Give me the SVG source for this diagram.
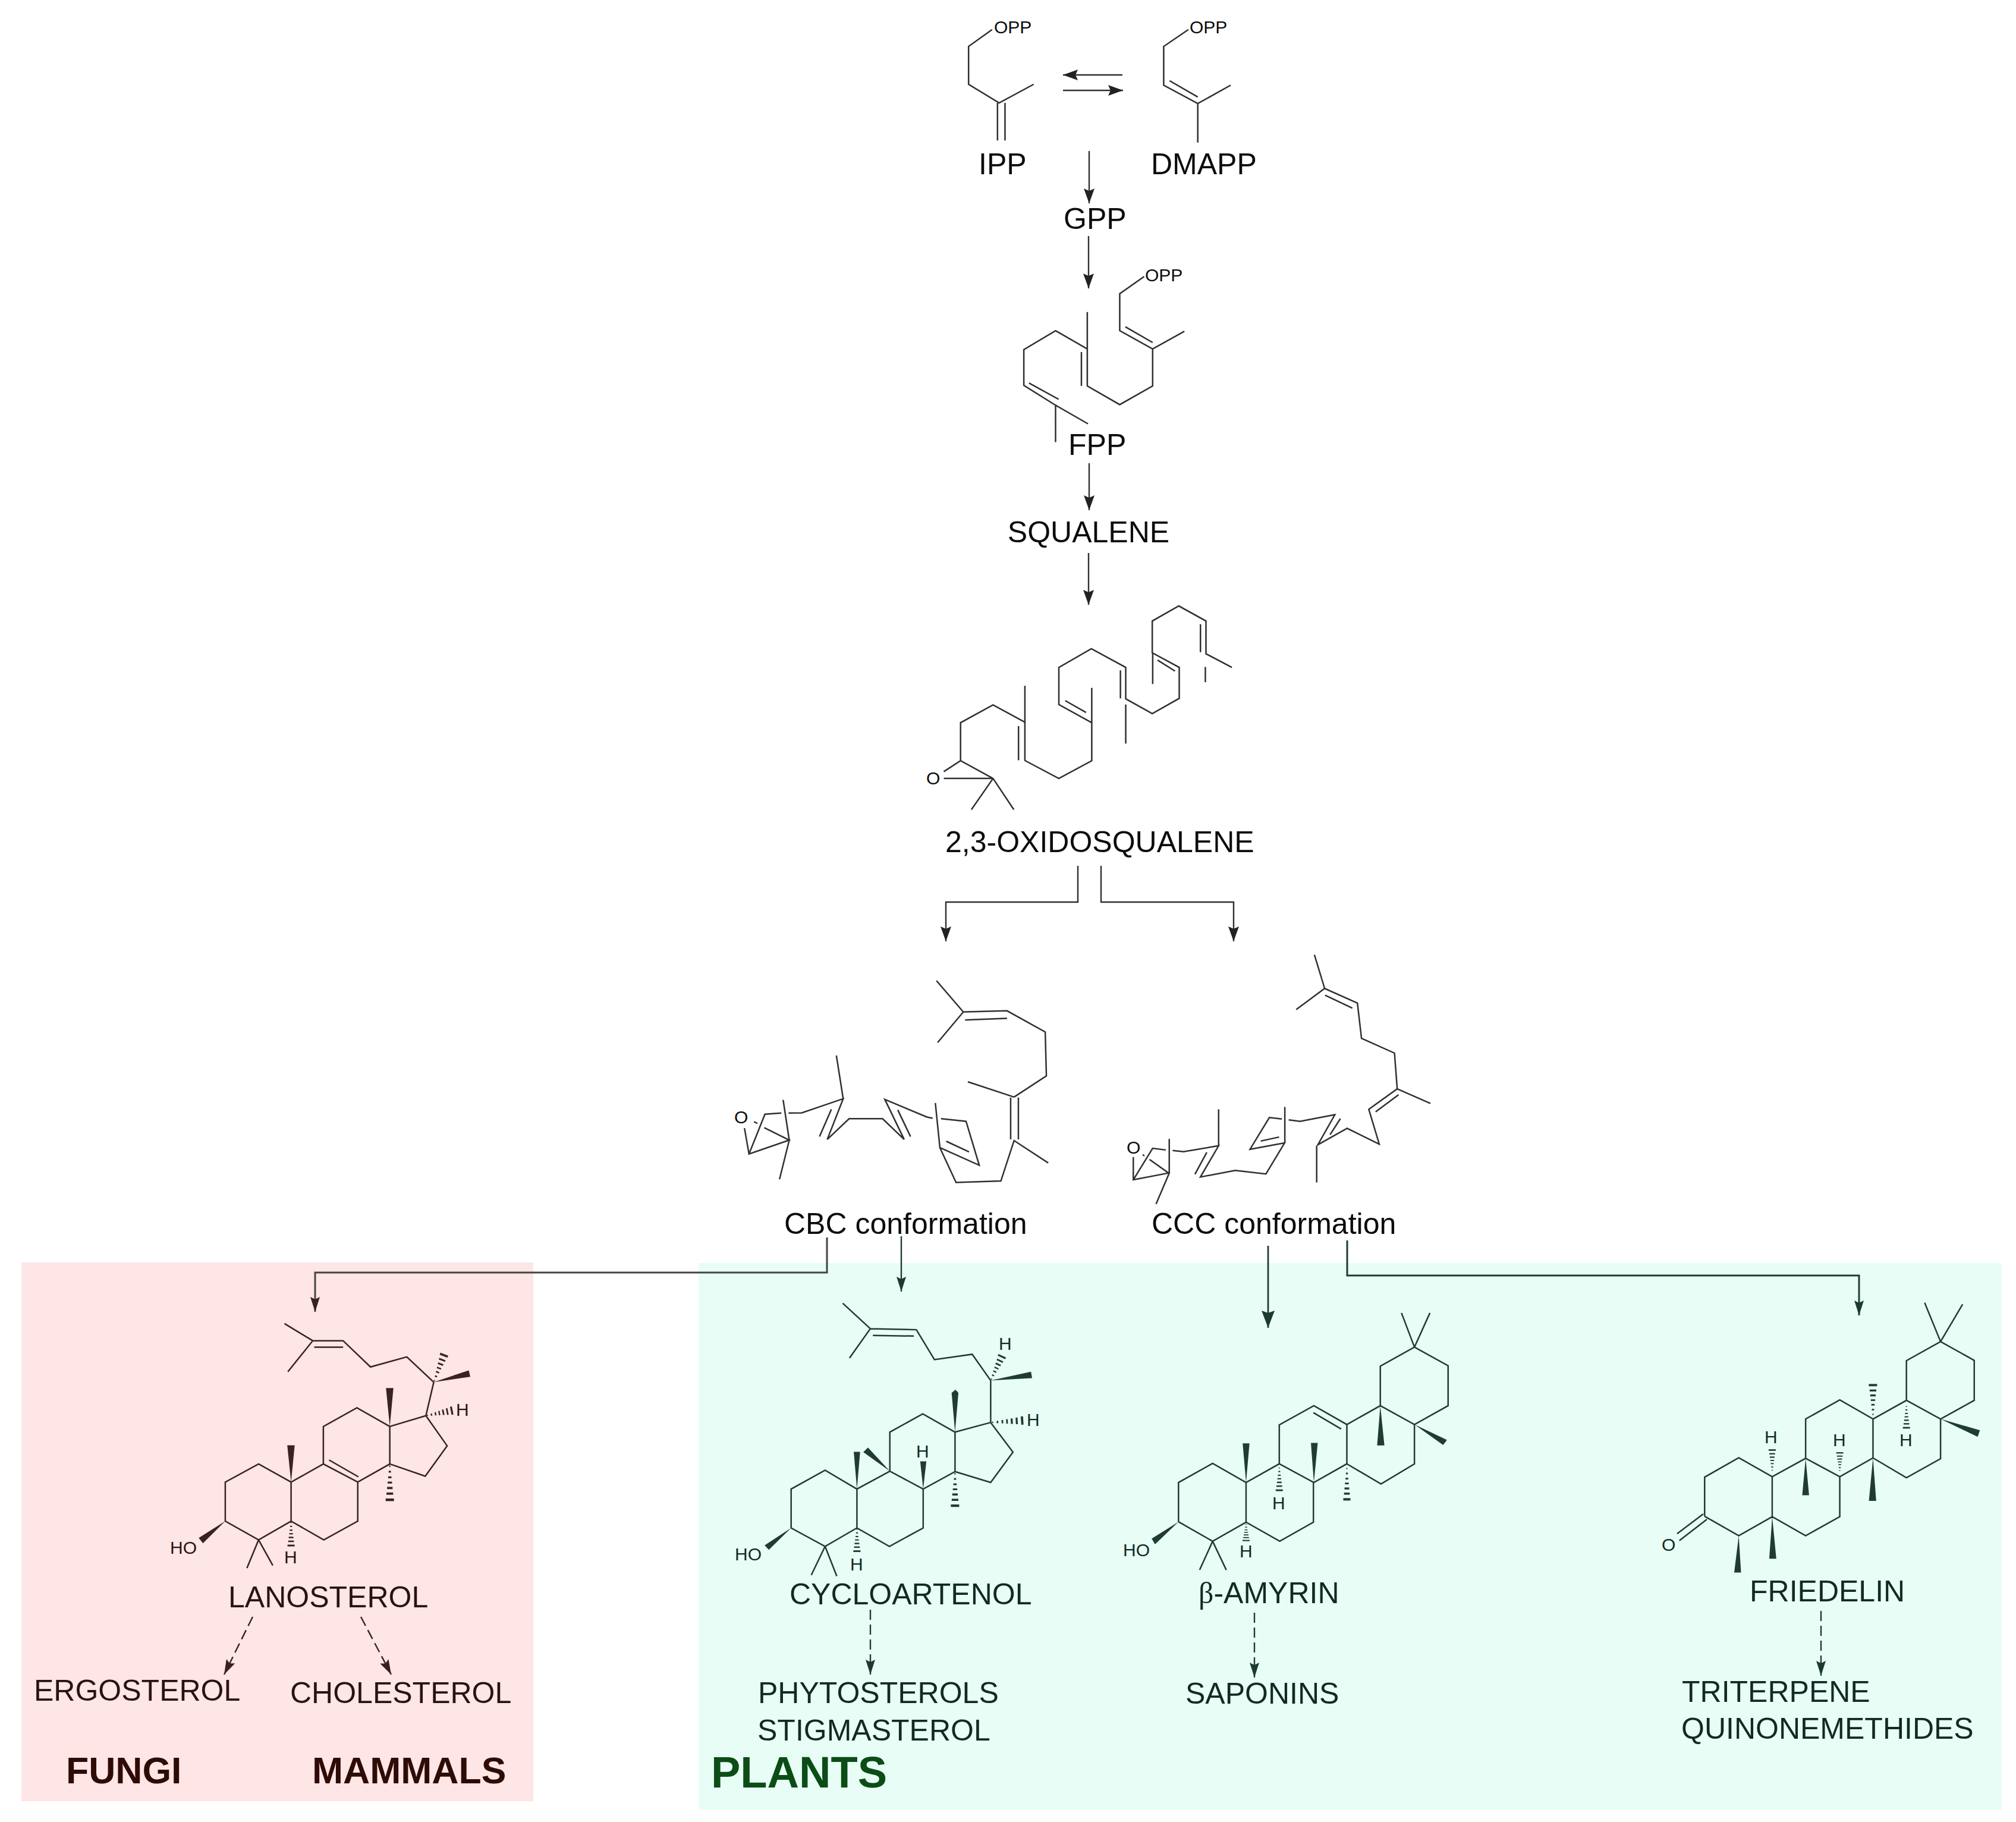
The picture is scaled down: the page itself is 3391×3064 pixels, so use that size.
<svg xmlns="http://www.w3.org/2000/svg" width="3391" height="3064" viewBox="0 0 3391 3064">
<style>
text{font-family:"Liberation Sans",Arial,sans-serif;fill:currentColor}
.k text{fill:#0c0c0c}
.p text{fill:#2a1214}
.g text{fill:#0f2b24}
.l{font-size:50px}
.s{font-size:30px}
.h{font-size:62.5px;font-weight:bold}
.b{fill:none;stroke:currentColor;stroke-width:2.5;vector-effect:non-scaling-stroke;stroke-linejoin:miter}
.w{fill:currentColor;stroke:none}
.k{color:#303030}
.p{color:#3a2223}
.g{color:#1f3c34}
.c{fill:none;stroke:currentColor;stroke-width:2.4}
.d{stroke-dasharray:17 8}
.u1{transform:translate(1560px,0) scale(.3954,.4974)}
.u2{transform:translate(1540px,980px) scale(.3571,.3827)}
.u3{transform:translate(1230px,1580px) scale(.3827,.3954)}
.u4{transform:translate(1850px,1580px) scale(.3827,.3954)}
.u5{transform:translate(260px,2190px) scale(.3571,.3316)}
.u6{transform:translate(1220px,2170px) scale(.3571,.3444)}
.u7{transform:translate(1900px,2170px) scale(.3827,.3444)}
.u8{transform:translate(2780px,2170px) scale(.3827,.3444)}
</style>
<defs>
<marker id="ak" markerUnits="userSpaceOnUse" markerWidth="26" markerHeight="20" refX="25" refY="10" orient="auto"><path d="M0 1L25 10L0 19L4 10Z" fill="#222"/></marker>
<marker id="ap" markerUnits="userSpaceOnUse" markerWidth="26" markerHeight="20" refX="25" refY="10" orient="auto"><path d="M0 2L25 10L0 18L4 10Z" fill="#38201f"/></marker>
<marker id="ag" markerUnits="userSpaceOnUse" markerWidth="26" markerHeight="20" refX="25" refY="10" orient="auto"><path d="M0 2L25 10L0 18L4 10Z" fill="#1c3a32"/></marker>
<marker id="ab" markerUnits="userSpaceOnUse" markerWidth="30" markerHeight="24" refX="29" refY="12" orient="auto"><path d="M0 1L29 12L0 23L4 12Z" fill="#1c3a32"/></marker>
<g id="hash" fill="currentColor">
<rect x="4" y="-.15" width="4" height=".3"/><rect x="18" y="-.27" width="5" height=".54"/><rect x="33" y="-.4" width="5" height=".8"/><rect x="47" y="-.53" width="5" height="1.06"/><rect x="61" y="-.66" width="6" height="1.32"/><rect x="76" y="-.8" width="6" height="1.6"/><rect x="92" y="-1" width="7" height="2"/>
</g>
</defs>
<rect width="3391" height="3064" fill="#fff"/>
<g id="regions">
<rect x="36" y="2123" width="861" height="906" fill="#fee5e6"/>
<rect x="1175" y="2124" width="2192" height="919" fill="#e8fdf5"/>
</g>
<g id="connectors">
<g class="k">
<path class="c" marker-end="url(#ak)" d="M1888 126H1788"/>
<path class="c" marker-end="url(#ak)" d="M1788 152H1889"/>
<path class="c" marker-end="url(#ak)" d="M1832 254V342"/>
<path class="c" marker-end="url(#ak)" d="M1831 397V485"/>
<path class="c" marker-end="url(#ak)" d="M1832 779V858"/>
<path class="c" marker-end="url(#ak)" d="M1831 930V1017"/>
<path class="c" marker-end="url(#ak)" d="M1813 1456V1517H1591V1583"/>
<path class="c" marker-end="url(#ak)" d="M1852 1456V1517H2075V1583"/>
<path class="c" style="stroke-width:3;stroke:#454545" marker-end="url(#ap)" d="M1391 2081V2140H530V2206"/>
</g>
<g class="g">
<path class="c" marker-end="url(#ag)" d="M1516 2079V2172"/>
<path class="c" style="stroke-width:2.8" marker-end="url(#ab)" d="M2133 2095V2233"/>
<path class="c" style="stroke-width:3" marker-end="url(#ag)" d="M2266 2086V2145H3127V2212"/>
<path class="c d" marker-end="url(#ag)" d="M1464 2707V2816"/>
<path class="c d" marker-end="url(#ag)" d="M2110 2712V2821"/>
<path class="c d" marker-end="url(#ag)" d="M3063 2709V2818"/>
</g>
<g class="p">
<path class="c d" marker-end="url(#ap)" d="M425 2719L377 2816"/>
<path class="c d" marker-end="url(#ap)" d="M607 2719L658 2816"/>
</g>
</g>
<g id="ipp" class="k">
<path class="b u1" d="M275 100L175 157V285L305 348L452 285M298 348V475M330 348V475"/>
<text class="s" x="1672" y="56">OPP</text>
<text class="l" x="1646" y="293">IPP</text>
</g>
<g id="dmapp" class="k">
<path class="b u1" d="M1110 100L1005 157V288L1150 350L1290 288M1150 350V482M1030 273L1150 328"/>
<text class="s" x="2001" y="56">OPP</text>
<text class="l" x="1936" y="293">DMAPP</text>
</g>
<g id="gpp" class="k"><text class="l" x="1789" y="385">GPP</text></g>
<g id="fpp" class="k">
<path class="b u1" d="M922 935L818 993V1118L958 1180L1093 1120M842 1105L958 1158M958 1180V1305L818 1368L680 1305V1180M680 1055V1180L545 1118L410 1182V1303L545 1370L683 1433M655 1190V1305M432 1295L558 1350M545 1370V1495"/>
<text class="s" x="1926" y="473">OPP</text>
<text class="l" x="1797" y="765">FPP</text>
</g>
<g id="squalene" class="k"><text class="l" x="1831" y="912" text-anchor="middle">SQUALENE</text></g>
<g id="oxidosqualene" class="k">
<path class="b u2" d="M133 830L212 782L365 860H133M212 782V615L365 537L513 612M515 453V780M485 630V780M513 780L675 860L830 782V615M830 462V615L675 535V372L828 290L990 372V510L1115 575L1242 508V372L1115 308V168L1240 102L1368 168V312L1490 372M1117 308V445M1365 370V437M705 518L803 570M965 385V508M990 535V707M1140 340L1222 388M1342 182V305M365 860L263 997M365 860L463 997"/>
<text class="s" x="1558" y="1319">O</text>
<text class="l" x="1590" y="1433">2,3-OXIDOSQUALENE</text>
</g>
<g id="cbc" class="k">
<path class="b u3" d="M58 802L78 912L255 853L145 800M78 912L148 743L220 738M252 738L310 737L492 677L422 850L518 762H665L760 850L675 680L860 755L885 760M228 682L255 853L212 1020M100 775L115 782M462 493L492 677M440 722L388 838M732 725L788 838M897 695L917 885L1090 960L1032 773L922 762M945 858L1045 903M917 885L988 1033L1185 1027L1243 855L1393 950M1228 850V672M1262 850V672M1243 670L1040 605M1243 670L1385 580L1380 393L1212 303L1020 308L902 175M1020 308L907 438M1028 342L1212 335"/>
<text class="s" x="1235" y="1889">O</text>
<text class="l" x="1319" y="2075">CBC conformation</text>
</g>
<g id="ccc" class="k">
<path class="b u4" d="M147 925V1022L302 993L218 935M147 1022L232 888L290 895M188 915L196 920M320 897L368 902L522 877L442 1010L595 982L730 997L812 865L660 892L745 757L800 763M522 722V877M470 905L418 998M305 848V993L247 1125M707 857L788 840M813 712V865M830 767L880 773L1033 745L958 873L1087 803L1228 870L1182 722L1307 635L1295 483L1150 420L1132 270L988 208L863 298M953 877V1033M1012 830L1057 762M1212 733L1313 660M1307 635L1453 697M988 208L943 65M990 237L1110 292"/>
<text class="s" x="1895" y="1940">O</text>
<text class="l" x="1937" y="2075">CCC conformation</text>
</g>
<g id="lanosterol" class="p">
<path class="b u5" d="M612 108L745 195L628 352M745 195H888L1017 328L1188 277L1315 405L1278 575L1108 630V820L957 912L795 820V630L953 535L1108 630M1108 820L1275 882L1378 728L1278 575M752 228H888M822 800L960 885M957 912V1110L797 1205L643 1110V912L795 820M643 912L490 820L333 912V1110L490 1205L643 1110M490 1205L435 1348M490 1205L557 1335"/>
<path class="w u5" d="M643 912L625 725H660ZM1108 630L1090 435H1125ZM1315 405L1480 345L1487 378ZM333 1110L208 1195L228 1222Z"/>
<use href="#hash" transform="translate(729.6,2324.3) rotate(-69.3) scale(.507,7)"/>
<use href="#hash" transform="translate(716.4,2380.7) rotate(-11.1) scale(.463,7)"/>
<use href="#hash" transform="translate(655.7,2462) rotate(90) scale(.63,7)"/>
<use href="#hash" transform="translate(489.6,2558) rotate(90) scale(.43,6)"/>
<text class="s" x="286" y="2613">HO</text>
<text class="s" x="767" y="2381">H</text>
<text class="s" x="478" y="2629">H</text>
<text class="l" x="384" y="2703">LANOSTEROL</text>
</g>
<g id="ergosterol" class="p"><text class="l" x="57" y="2860">ERGOSTEROL</text></g>
<g id="cholesterol" class="p"><text class="l" x="488" y="2864">CHOLESTEROL</text></g>
<g id="fungi" class="p"><text class="h" x="111" y="2999" style="fill:#2e0c05">FUNGI</text></g>
<g id="mammals" class="p"><text class="h" x="525" y="2999" style="fill:#2e0c05">MAMMALS</text></g>
<g id="cycloartenol" class="g">
<path class="b u6" d="M553 63L683 187L585 330M683 187L900 192L985 338L1163 312L1250 440V645L1082 692V885L932 970L775 883V692L930 603L1082 692M1082 885L1250 938L1355 790L1250 645M695 220L888 223M932 970V1160L773 1250L620 1160V970L775 883M620 970L470 878L310 970V1160L470 1250L620 1160M470 1250L405 1390M470 1250L525 1395"/>
<path class="w u6" d="M620 970L605 788H635ZM775 883L650 790L672 767ZM932 970L918 835H947ZM1082 692L1066 500L1084 485L1098 500ZM1250 440L1440 397L1445 428ZM310 1160L185 1245L205 1267Z"/>
<use href="#hash" transform="translate(1666.4,2321.5) rotate(-65) scale(.464,7)"/>
<use href="#hash" transform="translate(1666.4,2392) rotate(-3.4) scale(.555,7)"/>
<use href="#hash" transform="translate(1606.4,2474.8) rotate(90) scale(.6,7)"/>
<use href="#hash" transform="translate(1441.4,2569.4) rotate(90) scale(.41,6)"/>
<text class="s" x="1236" y="2624">HO</text>
<text class="s" x="1430" y="2641">H</text>
<text class="s" x="1541" y="2451">H</text>
<text class="s" x="1727" y="2398">H</text>
<text class="s" x="1680" y="2270">H</text>
<text class="l" x="1328" y="2698">CYCLOARTENOL</text>
</g>
<g id="phytosterols" class="g"><text class="l" x="1275" y="2864">PHYTOSTEROLS</text><text class="l" x="1274" y="2927">STIGMASTEROL</text></g>
<g id="plants" class="g"><text x="1196" y="3006" style="font-size:74px;font-weight:bold;fill:#0b4d16">PLANTS</text></g>
<g id="amyrin" class="g">
<path class="b u7" d="M215 1130V938L365 845L512 938L658 847V657L810 563L955 655V847L810 938L658 847M808 597L930 677M955 655L1102 563V370L1252 277L1400 368V563L1252 655L1102 563M1252 655V847L1105 945L955 847M1252 277L1195 110M1252 277L1320 110M512 938V1132L660 1225L808 1132V938M512 1132L365 1225L215 1130M365 1225L308 1365M365 1225L425 1365"/>
<path class="w u7" d="M512 938L497 747H527ZM810 938L797 745H827ZM1102 563L1088 757H1120ZM1252 655L1395 730L1378 755ZM215 1130L97 1212L112 1240Z"/>
<use href="#hash" transform="translate(2151.8,2466) rotate(90) scale(.42,6)"/>
<use href="#hash" transform="translate(2265.5,2466) rotate(90) scale(.58,6)"/>
<use href="#hash" transform="translate(2096,2562) rotate(90) scale(.3,6)"/>
<text class="s" x="1889" y="2617">HO</text>
<text class="s" x="2140" y="2538">H</text>
<text class="s" x="2085" y="2619">H</text>
<text class="l" x="2016" y="2696"><tspan style="font-family:'Liberation Serif',serif">β</tspan>-AMYRIN</text>
</g>
<g id="saponins" class="g"><text class="l" x="1994" y="2865">SAPONINS</text></g>
<g id="friedelin" class="g">
<path class="b u8" d="M228 1103V912L378 817L525 910L672 820V628L822 535L968 628V818L822 910L672 820M968 628L1115 537V343L1265 250L1413 342V537L1265 628L1115 537M1265 628V822L1115 915L968 818M1265 250L1195 60M1265 250L1362 68M525 910V1105L672 1198L822 1105V910M525 1105L378 1198L228 1103M222 1092L107 1188M238 1118L117 1222"/>
<path class="w u8" d="M672 820L657 1000H687ZM968 818L950 1028H982ZM1265 628L1438 683L1428 715ZM525 1105L512 1310H543ZM378 1198L358 1378H388Z"/>
<use href="#hash" transform="translate(3150.4,2381.8) rotate(-90) scale(.55,7)"/>
<use href="#hash" transform="translate(3206.7,2362.8) rotate(90) scale(.4,6)"/>
<use href="#hash" transform="translate(2980.9,2474.8) rotate(-90) scale(.38,6)"/>
<use href="#hash" transform="translate(3094.6,2474.8) rotate(-90) scale(.33,6)"/>
<text class="s" x="2795" y="2608">O</text>
<text class="s" x="2968" y="2427">H</text>
<text class="s" x="3083" y="2432">H</text>
<text class="s" x="3195" y="2432">H</text>
<text class="l" x="2943" y="2693">FRIEDELIN</text>
</g>
<g id="triterpene" class="g"><text class="l" x="2829" y="2862">TRITERPENE</text><text class="l" x="2828" y="2924">QUINONEMETHIDES</text></g>
</svg>
